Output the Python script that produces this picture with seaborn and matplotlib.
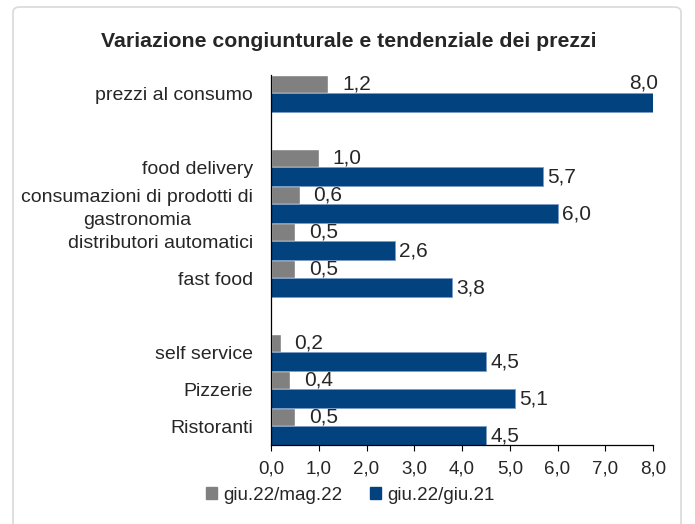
import pandas as pd
import seaborn as sns
import matplotlib.pyplot as plt
from matplotlib.patches import FancyBboxPatch

# data
categorie = ["prezzi al consumo", "food delivery",
             "consumazioni di prodotti di\ngastronomia",
             "distributori automatici", "fast food",
             "self service", "Pizzerie", "Ristoranti"]
# blank slots separate the groups
ordine = ["prezzi al consumo", "", "food delivery",
          "consumazioni di prodotti di\ngastronomia",
          "distributori automatici", "fast food", " ",
          "self service", "Pizzerie", "Ristoranti"]
serie = ["giu.22/mag.22", "giu.22/giu.21"]
congiunturale = [1.2, 1.0, 0.6, 0.5, 0.5, 0.2, 0.4, 0.5]
tendenziale = [8.0, 5.7, 6.0, 2.6, 3.8, 4.5, 5.1, 4.5]
colori = ["#808080", "#02427f"]

df = pd.DataFrame({
    "categoria": categorie * 2,
    "valore": congiunturale + tendenziale,
    "serie": [serie[0]] * len(categorie) + [serie[1]] * len(categorie),
})

sns.set_style("white")
plt.rcParams["font.family"] = ["Liberation Sans", "DejaVu Sans"]

fig = plt.figure(figsize=(6.95, 5.24), dpi=100)
ax = fig.add_axes([0.390, 0.1508, 0.5496, 0.7061])

sns.barplot(data=df, y="categoria", x="valore", hue="serie", order=ordine,
            hue_order=serie, palette=colori, width=1.0, gap=0,
            orient="h", ax=ax, legend=False, saturation=1)

ax.set_xlim(0, 8)
ax.set_ylim(9.5, -0.5)
ax.set_xlabel("")
ax.set_ylabel("")
ax.tick_params(axis="x", length=4, width=0.8, color="black", direction="out",
               labelsize=13.5, pad=7, bottom=True)
ax.tick_params(axis="y", length=0, labelsize=14, pad=13)
ax.set_xticks(range(0, 9))
ax.set_xticklabels([f"{v:.1f}".replace(".", ",") for v in range(0, 9)])
ax.set_yticks(range(len(ordine)))
ax.set_yticklabels(ordine)
fig.canvas.draw()
for lab in ax.get_yticklabels():
    lab.set_multialignment("center")
    lab.set_linespacing(1.4)
for side in ["top", "right"]:
    ax.spines[side].set_visible(False)
for side in ["left", "bottom"]:
    ax.spines[side].set_color("black")
    ax.spines[side].set_linewidth(0.9)

# data labels
for i, cont in enumerate(ax.containers):
    for bar in cont:
        w = bar.get_width()
        if pd.isna(w) or w == 0:
            continue
        yc = bar.get_y() + bar.get_height() / 2
        txt = f"{w:.1f}".replace(".", ",")
        if i == 0:
            ax.annotate(txt, xy=(w, yc), xytext=(10, 0), textcoords="offset points",
                        va="center", ha="left", fontsize=15)
        elif w >= 7.9:
            ax.annotate(txt, xy=(w, yc), xytext=(4, 14), textcoords="offset points",
                        va="center", ha="right", fontsize=15)
        else:
            ax.annotate(txt, xy=(w, yc), xytext=(3, 0), textcoords="offset points",
                        va="center", ha="left", fontsize=15)
    if i == 1:
        for bar in cont:
            bar.set_edgecolor("#7d9cc4")
            bar.set_linewidth(0.6)

fig.text(0.502, 0.92, "Variazione congiunturale e tendenziale dei prezzi",
         ha="center", va="center", fontsize=15.3, fontweight="bold")

handles = [plt.Rectangle((0, 0), 1, 1, color=c) for c in colori]
fig.legend(handles, serie, loc="center", bbox_to_anchor=(0.504, 0.055), ncol=2,
           frameon=False, fontsize=13.5, handlelength=0.6, handleheight=0.6,
           handletextpad=0.3, columnspacing=1.5)

bordo = FancyBboxPatch((13 / 695, -20 / 524), 668 / 695, 537 / 524,
                       boxstyle="round,pad=0,rounding_size=0.01",
                       transform=fig.transFigure, facecolor="none",
                       edgecolor="#d9d9d9", linewidth=1.2)
fig.patches.append(bordo)

fig.savefig("out.png", dpi=100)
